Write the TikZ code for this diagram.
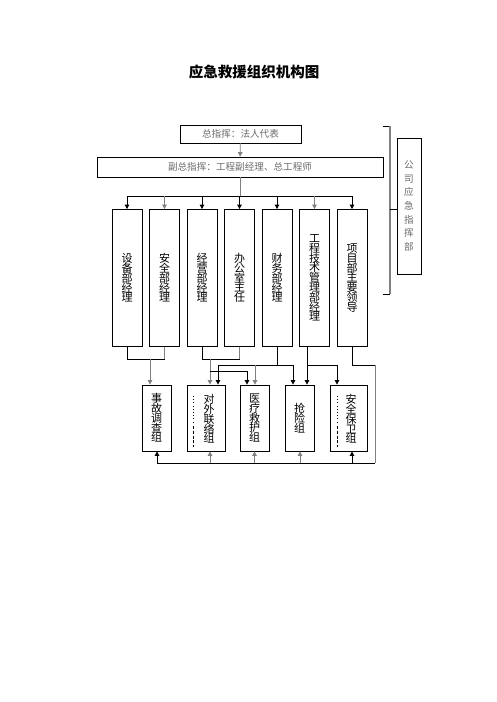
\documentclass[tikz,border=0pt]{standalone}
\usepackage{fontspec}
\setmainfont{Noto Sans CJK SC}
\usetikzlibrary{arrows.meta}
\definecolor{lg}{gray}{0.5}
\definecolor{tg}{gray}{0.42}
\begin{document}
\lineskiplimit=-20pt\relax
\begin{tikzpicture}[x=1pt,y=-1pt,
  box/.style={draw, line width=0.8pt, inner sep=0pt, rectangle},
  lk/.style={line width=0.8pt},
  arr/.style={lk,-{Triangle[width=4.5pt,length=4.5pt]}},
  vt/.style={align=center, inner sep=0pt, font=\fontsize{11}{9.8}\selectfont},
  ht/.style={text=tg, font=\fontsize{9.6}{11}\selectfont},
  dots/.style={line width=0.6pt, dash pattern=on 1pt off 2.2pt},
  dashs/.style={line width=0.6pt, dash pattern=on 3pt off 1.8pt}]
\useasboundingbox (0,0) rectangle (496,702);
\fill[white] (0,0) rectangle (496,702);

\node (title) at (254,72) {\fontsize{14.5}{16}\selectfont\bfseries 应急救援组织机构图};

% top boxes
\node[box, minimum width=121, minimum height=18] (top) at (240.5,134) {};
\node[ht] at (top) {总指挥：法人代表};
\node[box, minimum width=286, minimum height=20] (sub) at (240,167) {};
\node[ht] at (sub) {副总指挥：工程副经理、总工程师};

% side box and bracket
\node[box, minimum width=24, minimum height=136, align=center, text=tg, font=\fontsize{9.6}{13.7}\selectfont] (side) at (409,206) {公\\司\\应\\急\\指\\挥\\部};
\draw[lk] (383,126) -- (390,126);
\draw[lk] (383,294) -- (390,294);
\draw[line width=1.3pt, lg] (390,126) -- (390,294);
\coordinate (bm) at (390,209);
\draw[lk] (bm) -- (side.west |- bm);

% column boxes
\foreach \n/\x/\t in {1/127/设\\备\\部\\经\\理, 2/164.5/安\\全\\部\\经\\理, 3/202/经\\营\\部\\经\\理, 4/239.5/办\\公\\室\\主\\任, 5/277/财\\务\\部\\经\\理, 6/314.5/工\\程\\技\\术\\管\\理\\部\\经\\理, 7/352/项\\目\\部\\主\\要\\领\\导}
  \node[box, vt, minimum width=30, minimum height=137] (c\n) at (\x,278) {\t};

% bottom group boxes
\node[box, minimum width=29, minimum height=66] (g1) at (156.5,418) {};
\node[vt] at (g1) {事\\故\\调\\查\\组};
\node[box, minimum width=38, minimum height=66] (g2) at (206,418) {};
\node[vt] at (209,419) {对\\外\\联\\络\\组};
\draw[dots] (193,396) -- (193,424);
\draw[dashs] (193,426) -- (193,447);
\node[box, minimum width=29, minimum height=66] (g3) at (254.5,418) {};
\node[vt] at (g3) {医\\疗\\救\\护\\组};
\node[box, minimum width=29, minimum height=66] (g4) at (299.5,418) {};
\node[vt] at (g4) {抢\\险\\组};
\node[box, minimum width=37.5, minimum height=66] (g5) at (348.75,418) {};
\node[vt] at (351,419) {安\\全\\保\\卫\\组};
\draw[dots] (337,396) -- (337,424);
\draw[dashs] (337,426) -- (337,447);

% top connections
\draw[arr, lg] (top) -- (sub);
\coordinate (bus) at (240,196);
\draw[lk, lg] (sub.south) -- (bus);
\draw[lk] (c1.north |- bus) -- (c7.north |- bus);
\foreach \n/\c in {1/black,2/lg,3/black,4/black,5/black,6/lg,7/black}
  \draw[arr, \c] (c\n.north |- bus) -- (c\n.north);

% lower connections
\coordinate (j1) at (127,359);
\draw[lk] (c1.south) -- (j1) -- (c2.south |- j1);
\draw[lk, lg] (c2.south |- j1) -- (c2.south);
\draw[arr, lg] (150,359) -- (g1.north -| 150,0);

\coordinate (j2) at (202,359);
\draw[lk] (c3.south) -- (j2) -- (c4.south |- j2);
\draw[lk, lg] (c4.south |- j2) -- (c4.south);
\draw[arr, lg] (210,359) -- (g2.north -| 210,0);
\draw[lk] (210,371) -- (247,371);
\draw[arr] (247,371) -- (g3.north -| 247,0);

\coordinate (j3) at (277,365);
\draw[lk] (c5.south) -- (j3);
\draw[lk] (218,365) -- (293,365);
\draw[arr] (218,365) -- (g2.north -| 218,0);
\draw[arr, lg] (255,365) -- (g3.north -| 255,0);
\draw[arr] (293,365) -- (g4.north -| 293,0);

\coordinate (j4) at (307,365);
\draw[arr] (c6.south -| 307,0) -- (g4.north -| 307,0);
\draw[lk] (j4) -- (337,365);
\draw[arr] (337,365) -- (g5.north -| 337,0);

\coordinate (j5) at (375,365);
\coordinate (j6) at (375,463);
\draw[lk] (c7.south) -- (c7.south |- j5) -- (j5);
\draw[lk, lg] (j5) -- (j6);
\draw[lk] (j6) -- (157,463);
\foreach \g/\x/\c in {1/157/black,2/210/lg,3/254.5/lg,4/300/lg,5/352/black}
  \draw[arr, \c] (\x,463) -- (g\g.south -| \x,0);
\end{tikzpicture}
\end{document}
